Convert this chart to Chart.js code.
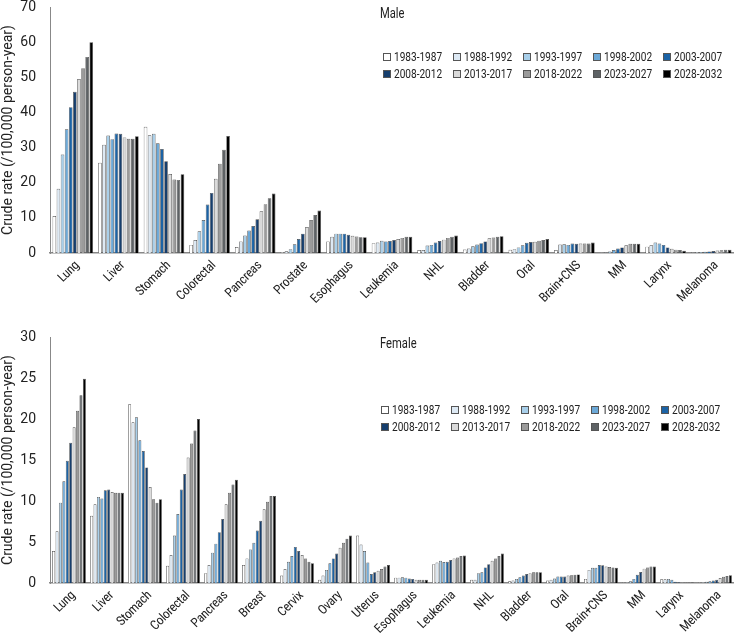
<!DOCTYPE html>
<html>
<head>
<meta charset="utf-8">
<script src="https://cdn.jsdelivr.net/npm/chart.js@4/dist/chart.umd.min.js"></script>
<style>
  body { margin: 0; background: #fff; font-family: Roboto, sans-serif; }
  #wrap { position: relative; width: 734px; height: 637px; overflow: hidden; }
  .panel { position: absolute; left: 0; width: 734px; }
  .title { position: absolute; font-size: 14px; line-height: 16px; color: #222; transform: scaleX(0.8); transform-origin: left center; }
  .legend { position: absolute; display: grid; grid-template-columns: repeat(5, 70px); grid-auto-rows: 17px; font-size: 12px; color: #222; }
  .legend div { display: flex; align-items: center; white-space: nowrap; }
  .legend span.box { width: 8px; height: 8px; border: 1px solid #555; margin-right: 3px; box-sizing: border-box; flex: none; }
  .legend span.txt { display: inline-block; transform: scaleX(0.84); transform-origin: left center; }
  .xlab { position: absolute; width: 0; height: 0; }
  .xlab span { position: absolute; right: 0; top: -7px; line-height: 14px; font-size: 13px; color: #222;
               font-family: "Roboto Condensed", "Arial Narrow", "Liberation Sans Narrow", Roboto, sans-serif;
               font-stretch: 75%; letter-spacing: -0.3px;
               white-space: nowrap; transform-origin: 100% 50%; transform: rotate(-45deg); }
</style>
</head>
<body>
<div id="wrap">
  <div class="panel" style="top:0;height:300px"><canvas id="maleChart" width="734" height="300"></canvas></div>
  <div class="panel" style="top:300px;height:337px"><canvas id="femaleChart" width="734" height="337"></canvas></div>
  <div class="title" style="left:380px;top:5px">Male</div>
  <div class="title" style="left:380px;top:335px">Female</div>
  <div class="legend" id="maleLegend" style="left:383px;top:48px"></div>
  <div class="legend" id="femaleLegend" style="left:381px;top:401px"></div>
</div>
<script>
// periods (series) and their colours
const periods = ['1983-1987', '1988-1992', '1993-1997', '1998-2002', '2003-2007',
                 '2008-2012', '2013-2017', '2018-2022', '2023-2027', '2028-2032'];
const colors = ['#ffffff', '#dde9f4', '#a8cfea', '#6ca9d8', '#1b63a6',
                '#163e6d', '#dadada', '#9b9b9b', '#5e6265', '#000000'];

// Male sites and crude rates, one row per period
const maleSites = ['Lung', 'Liver', 'Stomach', 'Colorectal', 'Pancreas', 'Prostate', 'Esophagus',
                   'Leukemia', 'NHL', 'Bladder', 'Oral', 'Brain+CNS', 'MM', 'Larynx', 'Melanoma'];
const maleRates = [
  [10.5, 25.7, 35.9, 2.3, 1.7, 0.3, 3.3, 2.8, 0.85, 1.0, 0.9, 0.85, 0.1, 1.8, 0.2],
  [18.3, 30.8, 33.5, 3.7, 3.3, 0.5, 4.6, 3.0, 0.85, 1.3, 1.1, 2.4, 0.2, 2.2, 0.25],
  [28.0, 33.4, 33.9, 6.2, 5.0, 1.1, 5.5, 3.5, 2.1, 1.9, 1.6, 2.5, 0.4, 3.0, 0.3],
  [35.2, 32.4, 31.2, 9.4, 6.4, 2.5, 5.5, 3.3, 2.3, 2.4, 2.2, 2.3, 0.85, 2.7, 0.35],
  [41.5, 34.0, 29.6, 13.8, 7.7, 4.0, 5.5, 3.4, 3.0, 2.8, 2.9, 2.7, 1.3, 2.3, 0.45],
  [45.9, 33.9, 26.1, 17.1, 9.6, 5.5, 5.2, 3.7, 3.4, 3.3, 3.1, 2.6, 1.6, 1.6, 0.55],
  [49.5, 32.9, 22.5, 21.1, 11.9, 7.4, 4.9, 4.0, 3.8, 4.2, 3.2, 2.7, 2.2, 1.2, 0.7],
  [52.6, 32.5, 20.9, 25.4, 13.9, 9.4, 4.7, 4.3, 4.3, 4.4, 3.5, 2.7, 2.6, 0.95, 0.8],
  [55.8, 32.5, 20.8, 29.4, 15.6, 10.8, 4.5, 4.6, 4.6, 4.6, 3.7, 2.7, 2.6, 0.85, 0.9],
  [60.0, 33.2, 22.4, 33.3, 16.9, 12.1, 4.5, 4.6, 5.0, 4.8, 4.0, 3.0, 2.6, 0.65, 0.9]
];
const maleTicks = [0, 10, 20, 30, 40, 50, 60, 70];

// Female sites and crude rates, one row per period
const femaleSites = ['Lung', 'Liver', 'Stomach', 'Colorectal', 'Pancreas', 'Breast', 'Cervix', 'Ovary',
                     'Uterus', 'Esophagus', 'Leukemia', 'NHL', 'Bladder', 'Oral', 'Brain+CNS', 'MM',
                     'Larynx', 'Melanoma'];
const femaleRates = [
  [3.9, 8.2, 21.8, 2.1, 1.2, 2.2, 0.9, 0.4, 5.8, 0.65, 2.3, 0.4, 0.2, 0.3, 0.5, 0.05, 0.45, 0.05],
  [6.3, 9.6, 19.6, 3.4, 2.2, 3.0, 1.7, 0.9, 4.7, 0.65, 2.5, 0.4, 0.3, 0.4, 1.6, 0.1, 0.45, 0.1],
  [9.8, 10.5, 20.2, 5.8, 3.7, 4.1, 2.6, 1.6, 3.9, 0.7, 2.7, 1.2, 0.5, 0.55, 1.85, 0.2, 0.5, 0.15],
  [12.4, 10.3, 17.4, 8.4, 4.8, 4.9, 3.3, 2.4, 2.5, 0.65, 2.55, 1.3, 0.7, 0.8, 1.85, 0.5, 0.4, 0.2],
  [14.9, 11.3, 16.1, 11.4, 6.2, 6.4, 4.4, 3.0, 1.1, 0.55, 2.6, 1.9, 0.9, 0.8, 2.2, 1.0, 0.15, 0.3],
  [17.1, 11.4, 14.1, 13.3, 7.8, 7.6, 3.9, 3.6, 1.3, 0.5, 2.8, 2.3, 1.1, 0.8, 2.15, 1.35, 0.1, 0.4],
  [19.0, 11.1, 11.7, 15.3, 9.6, 9.0, 3.4, 4.3, 1.5, 0.4, 3.0, 2.7, 1.2, 0.9, 2.0, 1.75, 0.05, 0.6],
  [21.0, 11.0, 10.2, 17.0, 11.0, 9.9, 3.0, 4.9, 1.7, 0.4, 3.1, 3.0, 1.3, 0.95, 1.95, 1.9, 0.05, 0.75],
  [22.9, 11.0, 9.8, 18.6, 12.0, 10.6, 2.6, 5.4, 2.0, 0.4, 3.3, 3.3, 1.3, 1.0, 1.9, 2.0, 0.05, 0.85],
  [24.9, 11.0, 10.2, 20.0, 12.6, 10.6, 2.4, 5.8, 2.2, 0.4, 3.35, 3.6, 1.3, 1.05, 1.85, 2.0, 0.05, 0.95]
];
const femaleTicks = [0, 5, 10, 15, 20, 25, 30];

const fontFamily = 'Roboto, sans-serif';
const wrap = document.getElementById('wrap');

// build the legend boxes from the period list
function buildLegend(id) {
    const el = document.getElementById(id);
    periods.forEach((p, i) => {
        const item = document.createElement('div');
        item.innerHTML = `<span class="box" style="background:${colors[i]}"></span><span class="txt">${p}</span>`;
        el.appendChild(item);
    });
}
buildLegend('maleLegend');
buildLegend('femaleLegend');

// Put the category names under the x axis at 45 degrees, at the scale's tick positions
function placeXLabels(chart, offsetTop) {
    const xs = chart.scales.x;
    chart.data.labels.forEach((lab, i) => {
        const d = document.createElement('div');
        d.className = 'xlab';
        d.style.left = (xs.getPixelForTick(i) + 4) + 'px';
        d.style.top = (offsetTop + xs.top + 10) + 'px';
        d.innerHTML = `<span>${lab}</span>`;
        wrap.appendChild(d);
    });
}

function makeChart(canvasId, labels, rows, ticks, topPad, xHeight) {
    const datasets = periods.map((p, i) => ({
        label: p,
        data: rows[i],
        backgroundColor: colors[i],
        borderColor: '#4a4a4a',
        borderWidth: 0.7,
        categoryPercentage: 0.9,
        barPercentage: 0.88
    }));
    return new Chart(document.getElementById(canvasId), {
        type: 'bar',
        data: { labels: labels, datasets: datasets },
        options: {
            responsive: false,
            animation: false,
            devicePixelRatio: 1,
            layout: { padding: { top: topPad, right: 0, left: 0, bottom: 0 } },
            plugins: { legend: { display: false }, tooltip: { enabled: false } },
            scales: {
                x: {
                    grid: { display: false },
                    border: { color: '#888', width: 1.5 },
                    ticks: { display: false },
                    afterFit: (scale) => { scale.height = xHeight; }
                },
                y: {
                    min: 0,
                    max: ticks[ticks.length - 1],
                    afterBuildTicks: (scale) => { scale.ticks = ticks.map(v => ({ value: v })); },
                    grid: { display: false },
                    border: { color: '#888', width: 1 },
                    ticks: { color: '#222', padding: 6, font: { family: fontFamily, size: 14, lineHeight: 1 } },
                    title: {
                        display: true, text: 'Crude rate (/100,000 person-year)',
                        color: '#222', padding: 0, font: { family: fontFamily, size: 14 }
                    },
                    afterFit: (scale) => {
                        scale.width = 50;
                        scale.paddingTop = 0;
                        scale.paddingBottom = 0;
                    }
                }
            }
        }
    });
}

const maleChart = makeChart('maleChart', maleSites, maleRates, maleTicks, 7, 47);
const femaleChart = makeChart('femaleChart', femaleSites, femaleRates, femaleTicks, 37, 54);
placeXLabels(maleChart, 0);
placeXLabels(femaleChart, 300);
</script>
</body>
</html>
